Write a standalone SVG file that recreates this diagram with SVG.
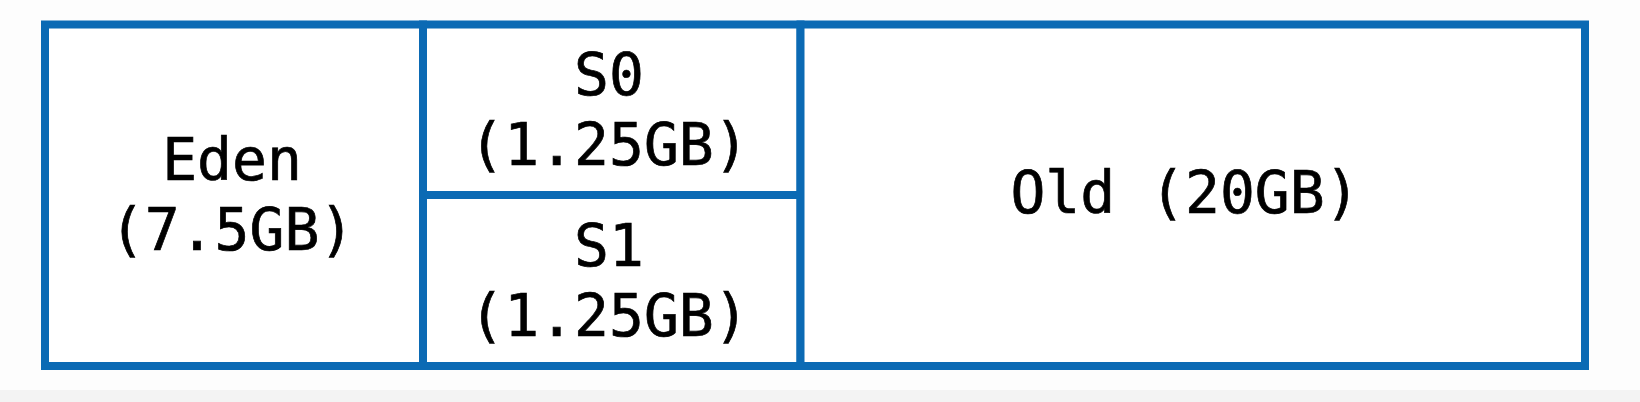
<svg xmlns="http://www.w3.org/2000/svg" width="1640" height="402" viewBox="0 0 1640 402">
<style>
.box{fill:#ffffff;stroke:#0b6ab4;stroke-width:8}
.t{font-family:"DejaVu Sans Mono","Liberation Mono",monospace;font-size:58px;fill:#000;stroke:#000;stroke-width:0.7;text-anchor:middle}
</style>
<rect x="0" y="0" width="1640" height="402" fill="#fdfdfd"/>
<rect x="0" y="390" width="1640" height="12" fill="#f3f3f3"/>
<g id="eden">
<rect class="box" x="45" y="24.5" width="378" height="341.5"/>
<text class="t" x="232" y="180">Eden</text>
<text class="t" x="232" y="250">(7.5GB)</text>
</g>
<g id="s0">
<rect class="box" x="423" y="24.5" width="377.5" height="170.5"/>
<text class="t" x="609" y="95">S0</text>
<text class="t" x="609" y="165">(1.25GB)</text>
</g>
<g id="s1">
<rect class="box" x="423" y="195" width="377.5" height="171"/>
<text class="t" x="609" y="266">S1</text>
<text class="t" x="609" y="336">(1.25GB)</text>
</g>
<g id="old">
<rect class="box" x="800.5" y="24.5" width="784.5" height="341.5"/>
<text class="t" x="1185" y="213">Old (20GB)</text>
</g>
<g id="connectors"></g>
</svg>
